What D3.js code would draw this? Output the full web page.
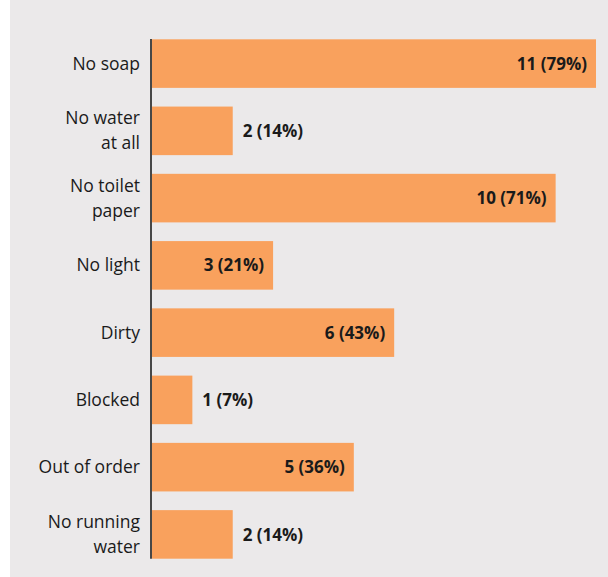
<!DOCTYPE html>
<html>
<head>
<meta charset="utf-8">
<script src="https://cdn.jsdelivr.net/npm/d3@7"></script>
<style>
  html, body { margin: 0; padding: 0; background: #ffffff; }
  svg { display: block; }
</style>
</head>
<body>
<svg id="chart" width="608" height="577"></svg>
<script>
// Reported toilet problems (counts and share of 14 toilets)
const categories = [
  ["No soap"],
  ["No water", "at all"],
  ["No toilet", "paper"],
  ["No light"],
  ["Dirty"],
  ["Blocked"],
  ["Out of order"],
  ["No running", "water"]
];
const counts = [11, 2, 10, 3, 6, 1, 5, 2];
const percents = [79, 14, 71, 21, 43, 7, 36, 14];

const W = 608, H = 577;
const svg = d3.select("#chart");

// panel background
svg.append("rect")
  .attr("x", 10).attr("y", 0)
  .attr("width", W - 10).attr("height", H)
  .attr("fill", "#ebe9ea");

const x = d3.scaleLinear().domain([0, 11]).range([152, 596]);
const y = d3.scaleBand()
  .domain(d3.range(categories.length))
  .range([39.3, 558.7])
  .paddingInner(0.278)
  .paddingOuter(0);

const rows = categories.map((c, i) => ({ lines: c, n: counts[i], p: percents[i], i }));

// bars
svg.append("g").selectAll("rect")
  .data(rows).join("rect")
  .attr("x", x(0))
  .attr("y", d => y(d.i))
  .attr("width", d => x(d.n) - x(0))
  .attr("height", y.bandwidth())
  .attr("fill", "#f9a15d");

// category labels (right aligned, multi-line)
const labelG = svg.append("g")
  .attr("font-family", "'Open Sans', sans-serif")
  .attr("font-size", 17.5)
  .attr("fill", "#1a1a1a")
  .attr("text-anchor", "end");
rows.forEach(d => {
  const cy = y(d.i) + y.bandwidth() / 2;
  const lh = 25;
  const n = d.lines.length;
  d.lines.forEach((ln, k) => {
    labelG.append("text")
      .attr("x", 140)
      .attr("y", cy + (k - (n - 1) / 2) * lh)
      .attr("dy", "0.35em")
      .text(ln);
  });
});

// value labels: inside bar when wide enough, otherwise just after it
const valG = svg.append("g")
  .attr("font-family", "'Open Sans', sans-serif")
  .attr("font-size", 17)
  .attr("font-weight", "bold")
  .attr("fill", "#1a1a1a");
valG.selectAll("text")
  .data(rows).join("text")
  .attr("x", d => d.n >= 3 ? x(d.n) - 9 : x(d.n) + 10)
  .attr("text-anchor", d => d.n >= 3 ? "end" : "start")
  .attr("y", d => y(d.i) + y.bandwidth() / 2)
  .attr("dy", "0.36em")
  .text(d => `${d.n} (${d.p}%)`);

// vertical axis line
svg.append("line")
  .attr("x1", 151).attr("x2", 151)
  .attr("y1", 39).attr("y2", y(7) + y.bandwidth())
  .attr("stroke", "#111")
  .attr("stroke-width", 1.5);
</script>
</body>
</html>
